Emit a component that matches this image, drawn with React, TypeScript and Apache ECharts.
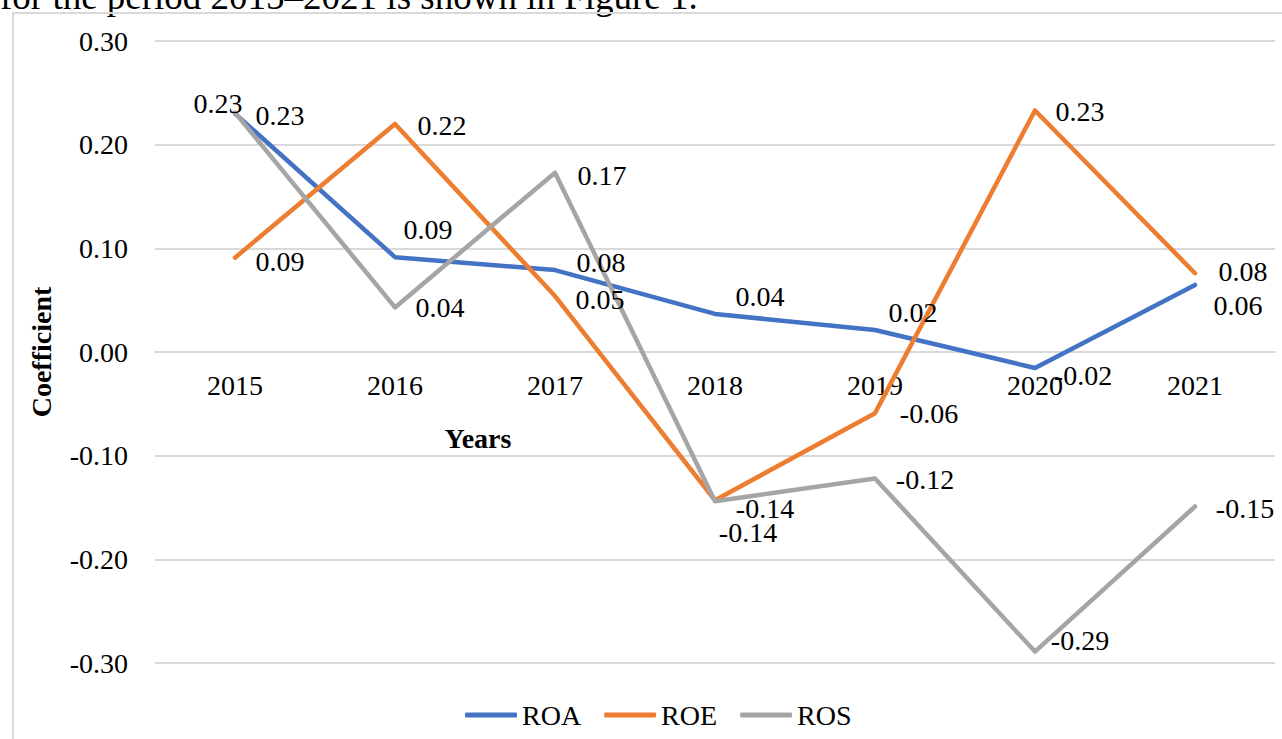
import React, { useEffect, useRef } from "react";
import * as echarts from "echarts";

const years = ["2015", "2016", "2017", "2018", "2019", "2020", "2021"];
const roa = [0.23, 0.0915, 0.079, 0.0367, 0.0212, -0.0154, 0.0647];
const roe = [0.091, 0.22, 0.054, -0.143, -0.059, 0.233, 0.076];
const ros = [0.231, 0.043, 0.173, -0.144, -0.122, -0.289, -0.149];
const seriesNames = ["ROA", "ROE", "ROS"];
const seriesColors = ["#4472C4", "#ED7D31", "#A5A5A5"];

// label offsets (layout only)
const roaOffsets = [[-17, -10], [33, -28], [46, -8], [45, -17], [38, -18], [48, 8], [43, 21]];
const roeOffsets = [[45, 4], [47, 2], [45, 3], [33, 32], [54, 0], [45, 1], [48, -2]];
const rosOffsets = [[45, 3], [45, 0], [47, 3], [50, 7], [50, 1], [45, -11], [50, 2]];

const FONT = "'Liberation Serif', 'Times New Roman', serif";
const FS = 28;

export default function App() {
  const ref = useRef<HTMLDivElement>(null);
  useEffect(() => {
    if (!ref.current) return;
    const chart = echarts.init(ref.current, null, { renderer: "svg" });
    const mk = (name: string, vals: number[], offs: number[][], color: string) => ({
      name,
      type: "line",
      data: vals.map((v, i) => ({
        value: v,
        label: { offset: offs[i] },
      })),
      symbol: "circle",
      symbolSize: 1,
      itemStyle: { color: "rgba(0,0,0,0)" },
      lineStyle: { color, width: 4.5, cap: "round", join: "round" },
      label: {
        show: true,
        position: "inside",
        align: "center",
        verticalAlign: "middle",
        color: "#000",
        fontSize: FS,
        fontFamily: FONT,
        formatter: (p: any) => Number(p.value).toFixed(2),
      },
      emphasis: { disabled: true },
    });
    chart.setOption({
      animation: false,
      backgroundColor: "#fff",
      textStyle: { fontFamily: FONT },
      graphic: [
        {
          type: "text",
          x: 0,
          y: -4,
          style: {
            text: "for the period 2015–2021 is shown in Figure 1.",
            fontSize: 37,
            fontFamily: FONT,
            fill: "#000",
            verticalAlign: "middle",
          },
          z: -10,
        },
        {
          type: "rect",
          shape: { x: 13, y: 13, width: 1300, height: 760 },
          style: { fill: "none", stroke: "#d9d9d9", lineWidth: 2 },
          z: -5,
        },
        {
          type: "text",
          x: 478,
          y: 438,
          style: {
            text: "Years",
            fontSize: FS,
            fontWeight: "bold",
            fontFamily: FONT,
            fill: "#000",
            align: "center",
            verticalAlign: "middle",
          },
          z: 2,
        },
      ],
      grid: { left: 155, right: 7, top: 41, bottom: 76, containLabel: false },
      legend: {
        data: seriesNames.map((n, i) => ({
          name: n,
          icon: "roundRect",
          itemStyle: { color: seriesColors[i], opacity: 1 },
        })),
        left: 460,
        top: 696,
        itemWidth: 52,
        itemHeight: 5,
        itemGap: 23,
        textStyle: { fontSize: FS, fontFamily: FONT, color: "#000" },
      },
      xAxis: {
        type: "category",
        data: years,
        boundaryGap: true,
        offset: -311,
        axisLine: { onZero: false, lineStyle: { color: "#d9d9d9", width: 2 } },
        axisTick: { show: false },
        axisLabel: { margin: 19, fontSize: FS, fontFamily: FONT, color: "#000" },
      },
      yAxis: {
        type: "value",
        min: -0.3,
        max: 0.3,
        interval: 0.1,
        name: "Coefficient",
        nameLocation: "middle",
        nameRotate: 90,
        nameGap: 100,
        nameTextStyle: { fontSize: FS, fontWeight: "bold", fontFamily: FONT, color: "#000" },
        axisLine: { show: false },
        axisTick: { show: false },
        splitLine: { lineStyle: { color: "#d9d9d9", width: 2 } },
        axisLabel: {
          margin: 27,
          fontSize: FS,
          fontFamily: FONT,
          color: "#000",
          formatter: (v: number) => v.toFixed(2),
        },
      },
      series: [
        mk("ROA", roa, roaOffsets, seriesColors[0]),
        mk("ROE", roe, roeOffsets, seriesColors[1]),
        mk("ROS", ros, rosOffsets, seriesColors[2]),
      ],
    });
    return () => chart.dispose();
  }, []);
  return (
    <div
      ref={ref}
      style={{ position: "fixed", left: 0, top: 0, width: 1282, height: 739 }}
    />
  );
}
